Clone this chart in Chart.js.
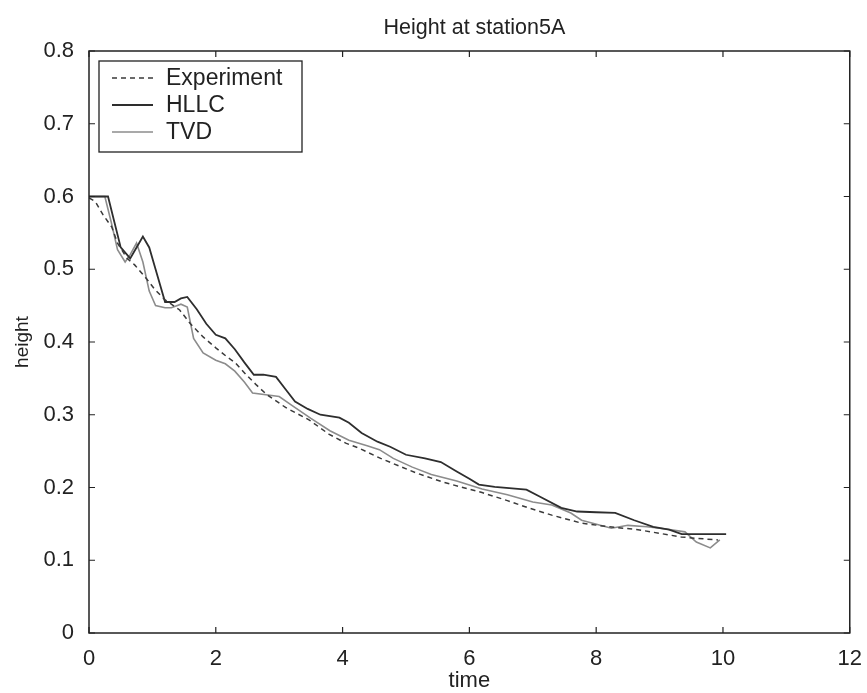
<!DOCTYPE html>
<html>
<head>
<meta charset="utf-8">
<script src="https://cdn.jsdelivr.net/npm/chart.js@4"></script>
<style>
  html, body { margin: 0; padding: 0; background: #fff; }
  #wrap { width: 867px; height: 693px; }
</style>
</head>
<body>
<div id="wrap"><canvas id="myChart" width="867" height="693"></canvas></div>
<script>
// measured depth at station 5A
var expTime = [0, 0.1, 0.22, 0.36, 0.45, 0.6, 0.72, 0.88, 1.04, 1.2, 1.43, 1.6, 1.8, 2.0, 2.17, 2.3, 2.48, 2.64, 2.8, 3.1, 3.47, 3.79, 4.05, 4.26, 4.6, 5.16, 5.6, 6.2, 6.6, 6.93, 7.3, 7.77, 8.2, 8.66, 9.0, 9.34, 9.6, 9.92];
var expHeight = [0.598, 0.593, 0.575, 0.558, 0.536, 0.515, 0.506, 0.490, 0.472, 0.458, 0.444, 0.425, 0.407, 0.392, 0.380, 0.372, 0.355, 0.341, 0.328, 0.310, 0.293, 0.273, 0.261, 0.254, 0.240, 0.220, 0.207, 0.193, 0.182, 0.172, 0.162, 0.151, 0.146, 0.142, 0.137, 0.132, 0.130, 0.128];

// HLLC scheme
var hllcTime = [0, 0.3, 0.4, 0.5, 0.65, 0.75, 0.85, 0.95, 1.05, 1.2, 1.35, 1.45, 1.55, 1.7, 1.85, 2.0, 2.15, 2.3, 2.45, 2.6, 2.75, 2.95, 3.1, 3.25, 3.45, 3.65, 3.95, 4.1, 4.3, 4.55, 4.75, 5.0, 5.3, 5.55, 5.8, 6.0, 6.15, 6.4, 6.9, 7.1, 7.45, 7.7, 8.0, 8.3, 8.6, 8.9, 9.15, 9.35, 9.7, 10.05];
var hllcHeight = [0.600, 0.600, 0.565, 0.530, 0.515, 0.530, 0.545, 0.530, 0.500, 0.455, 0.455, 0.460, 0.462, 0.445, 0.425, 0.410, 0.405, 0.390, 0.372, 0.355, 0.355, 0.352, 0.335, 0.318, 0.308, 0.300, 0.296, 0.289, 0.275, 0.263, 0.256, 0.245, 0.240, 0.235, 0.222, 0.212, 0.204, 0.201, 0.197, 0.188, 0.172, 0.167, 0.166, 0.165, 0.155, 0.146, 0.142, 0.136, 0.136, 0.136];

// TVD scheme
var tvdTime = [0, 0.25, 0.35, 0.45, 0.57, 0.65, 0.75, 0.85, 0.95, 1.05, 1.2, 1.3, 1.45, 1.55, 1.65, 1.8, 2.0, 2.15, 2.3, 2.45, 2.58, 3.0, 3.2, 3.5, 3.8, 4.1, 4.4, 4.58, 4.8, 5.1, 5.4, 5.8, 6.2, 6.6, 7.0, 7.3, 7.6, 7.77, 8.24, 8.5, 8.8, 9.1, 9.4, 9.58, 9.8, 9.95];
var tvdHeight = [0.600, 0.600, 0.565, 0.527, 0.510, 0.520, 0.536, 0.510, 0.470, 0.450, 0.447, 0.447, 0.452, 0.448, 0.405, 0.385, 0.375, 0.370, 0.360, 0.345, 0.330, 0.325, 0.313, 0.295, 0.278, 0.265, 0.257, 0.252, 0.240, 0.228, 0.218, 0.209, 0.198, 0.190, 0.180, 0.176, 0.165, 0.155, 0.144, 0.148, 0.146, 0.143, 0.139, 0.125, 0.117, 0.128];

var xTicks = [0, 2, 4, 6, 8, 10, 12];
var yTicks = [0, 0.1, 0.2, 0.3, 0.4, 0.5, 0.6, 0.7, 0.8];
var plotTitle = 'Height at station5A';

function pts(ts, hs) {
    return ts.map(function (t, i) { return { x: t, y: hs[i] }; });
}

var FONT = 'Liberation Sans, Arial, sans-serif';
var INK = '#222';

// box round the axes with inward tick marks on all four sides, title over the box
var axesBox = {
    id: 'axesBox',
    afterDatasetsDraw: function (chart) {
        var c = chart.ctx, a = chart.chartArea;
        var xs = chart.scales.x, ys = chart.scales.y;
        c.save();
        c.strokeStyle = INK;
        c.lineWidth = 1.5;
        c.strokeRect(a.left, a.top, a.right - a.left, a.bottom - a.top);
        c.lineWidth = 1.2;
        c.beginPath();
        xTicks.forEach(function (v) {
            var px = xs.getPixelForValue(v);
            c.moveTo(px, a.bottom); c.lineTo(px, a.bottom - 6);
            c.moveTo(px, a.top); c.lineTo(px, a.top + 6);
        });
        yTicks.forEach(function (v) {
            var py = ys.getPixelForValue(v);
            c.moveTo(a.left, py); c.lineTo(a.left + 6, py);
            c.moveTo(a.right, py); c.lineTo(a.right - 6, py);
        });
        c.stroke();
        c.fillStyle = INK;
        c.font = '21.5px ' + FONT;
        c.textAlign = 'center';
        c.textBaseline = 'middle';
        c.fillText(plotTitle, (a.left + a.right) / 2 + 5, 28);
        c.restore();
    }
};

// legend drawn inside the upper left corner
var boxLegend = {
    id: 'boxLegend',
    afterDraw: function (chart) {
        var c = chart.ctx;
        var bx = 99, by = 61, bw = 203, bh = 91;
        var rows = [78, 105, 132];
        c.save();
        c.fillStyle = '#fff';
        c.fillRect(bx, by, bw, bh);
        c.strokeStyle = INK;
        c.lineWidth = 1.3;
        c.strokeRect(bx, by, bw, bh);
        chart.data.datasets.forEach(function (ds, i) {
            c.beginPath();
            c.strokeStyle = ds.borderColor;
            c.lineWidth = ds.borderWidth;
            c.setLineDash(ds.borderDash || []);
            c.moveTo(112, rows[i]);
            c.lineTo(153, rows[i]);
            c.stroke();
            c.setLineDash([]);
            c.fillStyle = INK;
            c.font = '23px ' + FONT;
            c.textAlign = 'left';
            c.textBaseline = 'middle';
            c.fillText(ds.label, 166, rows[i] + 1);
        });
        c.restore();
    }
};

var ctx = document.getElementById('myChart').getContext('2d');
var myChart = new Chart(ctx, {
    type: 'line',
    data: {
        datasets: [{
            label: 'Experiment',
            data: pts(expTime, expHeight),
            borderColor: '#3a3a3a',
            borderWidth: 1.5,
            borderDash: [5, 4]
        }, {
            label: 'HLLC',
            data: pts(hllcTime, hllcHeight),
            borderColor: '#2e2e2e',
            borderWidth: 1.8
        }, {
            label: 'TVD',
            data: pts(tvdTime, tvdHeight),
            borderColor: '#8c8c8c',
            borderWidth: 1.6
        }]
    },
    options: {
        responsive: false,
        animation: false,
        layout: { padding: { left: 0, right: 15, top: 51, bottom: 0 } },
        elements: { point: { radius: 0 }, line: { tension: 0 } },
        plugins: {
            legend: { display: false },
            tooltip: { enabled: false },
            title: { display: false }
        },
        scales: {
            x: {
                type: 'linear',
                min: 0, max: 12,
                afterBuildTicks: function (s) { s.ticks = xTicks.map(function (v) { return { value: v }; }); },
                afterFit: function (s) { s.height = 60; },
                grid: { display: false },
                border: { display: false },
                ticks: { color: INK, padding: 5, maxRotation: 0, font: { family: FONT, size: 22 } },
                title: { display: true, text: 'time', color: INK, padding: { top: 0, bottom: -1 }, font: { family: FONT, size: 22 } }
            },
            y: {
                min: 0, max: 0.8,
                afterBuildTicks: function (s) { s.ticks = yTicks.map(function (v) { return { value: v }; }); },
                afterFit: function (s) { s.width = 89; },
                grid: { display: false },
                border: { display: false },
                ticks: {
                    color: INK, padding: 7, font: { family: FONT, size: 22 },
                    callback: function (v) { return v === 0 ? '0' : v.toFixed(1); }
                },
                title: { display: true, text: 'height', color: INK, padding: { top: 11, bottom: 0 }, font: { family: FONT, size: 19 } }
            }
        }
    },
    plugins: [axesBox, boxLegend]
});
</script>
</body>
</html>
